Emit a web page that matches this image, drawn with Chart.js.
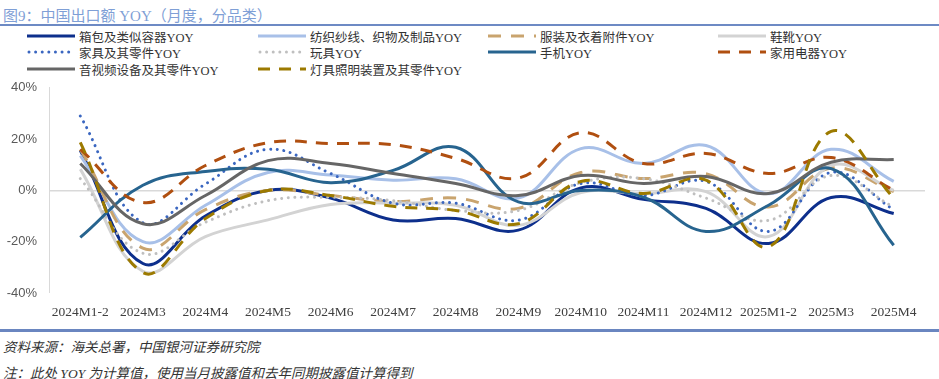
<!DOCTYPE html>
<html>
<head>
<meta charset="utf-8">
<script src="https://cdn.jsdelivr.net/npm/chart.js@4/dist/chart.umd.min.js"></script>
<style>
  html, body { margin: 0; padding: 0; background: #fff; }
  body { width: 939px; height: 379px; position: relative; overflow: hidden; font-family: "Liberation Serif", "Noto Sans CJK SC", serif; }
  #title { position: absolute; left: 3px; top: 4px; font-size: 15px; color: #7f9fd6; white-space: nowrap; font-family: "Liberation Serif", "Noto Sans CJK SC", serif; }
  #titleLine { position: absolute; left: 0; top: 24px; width: 939px; height: 1.5px; background: #6d8ac4; }
  .lg { position: absolute; display: flex; align-items: center; font-size: 12.5px; color: #333; white-space: nowrap; height: 16px; }
  .lg svg { margin-right: 4px; }
  #wrap { position: absolute; left: 0; top: 68px; width: 939px; height: 258px; }
  #footLine { position: absolute; left: 0; top: 329px; width: 939px; height: 3px; background: #6a86c0; }
  .foot { position: absolute; left: 3px; font-size: 13.5px; font-style: italic; color: #333; white-space: nowrap; font-family: "Liberation Serif", "Noto Sans CJK SC", serif; }
</style>
</head>
<body>
<div id="title">图9：中国出口额 YOY（月度，分品类）</div>
<div id="titleLine"></div>
<div id="legend"></div>
<div id="wrap"><canvas id="c" width="939" height="258"></canvas></div>
<div id="footLine"></div>
<div class="foot" style="top:336px;">资料来源：海关总署，中国银河证券研究院</div>
<div class="foot" style="top:362px;">注：此处 YOY 为计算值，使用当月披露值和去年同期披露值计算得到</div>
<script>
const categories = ['2024M1-2','2024M3','2024M4','2024M5','2024M6','2024M7','2024M8','2024M9','2024M10','2024M11','2024M12','2025M1-2','2025M3','2025M4'];
const yTicks = [-40, -20, 0, 20, 40];

const seriesNames = ['箱包及类似容器YOY','纺织纱线、织物及制品YOY','服装及衣着附件YOY','鞋靴YOY','家具及其零件YOY','玩具YOY','手机YOY','家用电器YOY','音视频设备及其零件YOY','灯具照明装置及其零件YOY'];

const bags       = [15.5, -28.5, -10, 0, -3, -11.5, -11, -15.5, 1, -3.5, -7, -20.7, -2.8, -9];
const textiles   = [13.6, -20, -5.8, 7, 6, 4, 4.5, -3, 16.3, 10.5, 17.5, -1.3, 16, 3.5];
const apparel    = [16, -22.5, -7.5, 0, -2, -4.3, -3, -7, 7, 4.6, 6.5, -6.5, 8.7, -0.5];
const footwear   = [8.3, -31.5, -18, -11.5, -5.5, -5, -5.8, -13.6, -0.8, -1.3, -0.5, -18, 9.7, 0];
const furniture  = [29, -12.6, 2.5, 16, 6.6, -5, -5, -11.6, 2.7, -2, 3.5, -16, 7, -7.5];
const toys       = [4.6, -24.5, -12.4, -4, -2.7, -4, -7.8, -7.8, 3, 4.6, -3, -11.7, 5.8, -6.5];
const phones     = [-18.3, 2, 7.4, 8.2, 3, 7.8, 16.8, -4.5, 0, -2.6, -16, -5.8, 8.5, -21.4];
const appliances = [16, -4.7, 9.7, 18.6, 18.3, 17.8, 12.5, 4.8, 22.5, 10.5, 14.4, 6.6, 12.8, 0];
const av         = [10.5, -13, -2, 11.6, 10.5, 6.6, 2.7, -2, 5.8, 2.7, 5.4, -1.2, 11, 12];
const lamps      = [18.7, -32, -11, 0, -2, -6.2, -7.8, -13, 3.5, -1.2, 4, -22, 23, -3];

const seriesData = [bags, textiles, apparel, footwear, furniture, toys, phones, appliances, av, lamps];

const styles = [
  { color: '#0d2f8c', dash: [], cap: 'butt' },
  { color: '#a8c0e8', dash: [], cap: 'butt' },
  { color: '#c9a46e', dash: [13, 10], cap: 'butt' },
  { color: '#d3d3d3', dash: [], cap: 'butt' },
  { color: '#3a66c0', dash: [0.01, 6.6], cap: 'round' },
  { color: '#bfbfbf', dash: [0.01, 6.6], cap: 'round' },
  { color: '#27648f', dash: [], cap: 'butt' },
  { color: '#b04f10', dash: [12, 9], cap: 'butt' },
  { color: '#666666', dash: [], cap: 'butt' },
  { color: '#9c7a00', dash: [12, 9], cap: 'butt' }
];

// legend (4 columns)
const colX = [27, 258, 488, 718];
const rowY = [28, 44, 61];
const legend = document.getElementById('legend');
seriesNames.forEach((name, i) => {
  const s = styles[i];
  const d = document.createElement('div');
  d.className = 'lg';
  d.style.left = colX[i % 4] + 'px';
  d.style.top = rowY[Math.floor(i / 4)] + 'px';
  const dashAttr = s.dash.length ? `stroke-dasharray="${s.dash.join(' ')}"` : '';
  d.innerHTML = `<svg width="48" height="8"><line x1="${s.cap==='round'?2:0}" y1="4" x2="48" y2="4" stroke="${s.color}" stroke-width="3" stroke-linecap="${s.cap}" ${dashAttr}/></svg><span>${name}</span>`;
  legend.appendChild(d);
});

const datasets = seriesData.map((arr, i) => ({
  label: seriesNames[i],
  data: arr,
  borderColor: styles[i].color,
  backgroundColor: styles[i].color,
  borderWidth: 3,
  borderDash: styles[i].dash,
  borderCapStyle: styles[i].cap,
  pointRadius: 0,
  pointHoverRadius: 0,
  tension: 0.4,
  fill: false,
  order: 20 - i
}));

new Chart(document.getElementById('c'), {
  type: 'line',
  data: { labels: categories, datasets },
  options: {
    responsive: false,
    animation: false,
    devicePixelRatio: 1,
    layout: { padding: { top: 0, right: 14, left: 0, bottom: 0 } },
    plugins: { legend: { display: false }, tooltip: { enabled: false } },
    scales: {
      x: {
        offset: true,
        grid: { display: false, drawTicks: false },
        border: { display: false },
        ticks: {
          autoSkip: false, maxRotation: 0, padding: 11,
          color: '#404040',
          font: { family: 'Liberation Serif', size: 13.5 }
        },
        afterFit: (s) => { s.height = 33; }
      },
      y: {
        min: -40, max: 40,
        afterBuildTicks: (s) => { s.ticks = yTicks.map(v => ({ value: v })); },
        grid: {
          drawTicks: false,
          lineWidth: (ctx) => (ctx.tick && ctx.tick.value === 0 ? 1.5 : 0),
          color: (ctx) => (ctx.tick && ctx.tick.value === 0 ? '#d9d9d9' : 'rgba(0,0,0,0)')
        },
        border: { display: true, color: '#d9d9d9', width: 1 },
        ticks: {
          padding: 12,
          color: '#595959',
          font: { family: 'Liberation Sans', size: 13 },
          callback: (v) => v + '%'
        },
        afterFit: (s) => { s.width = 49; }
      }
    }
  }
});
</script>
</body>
</html>
